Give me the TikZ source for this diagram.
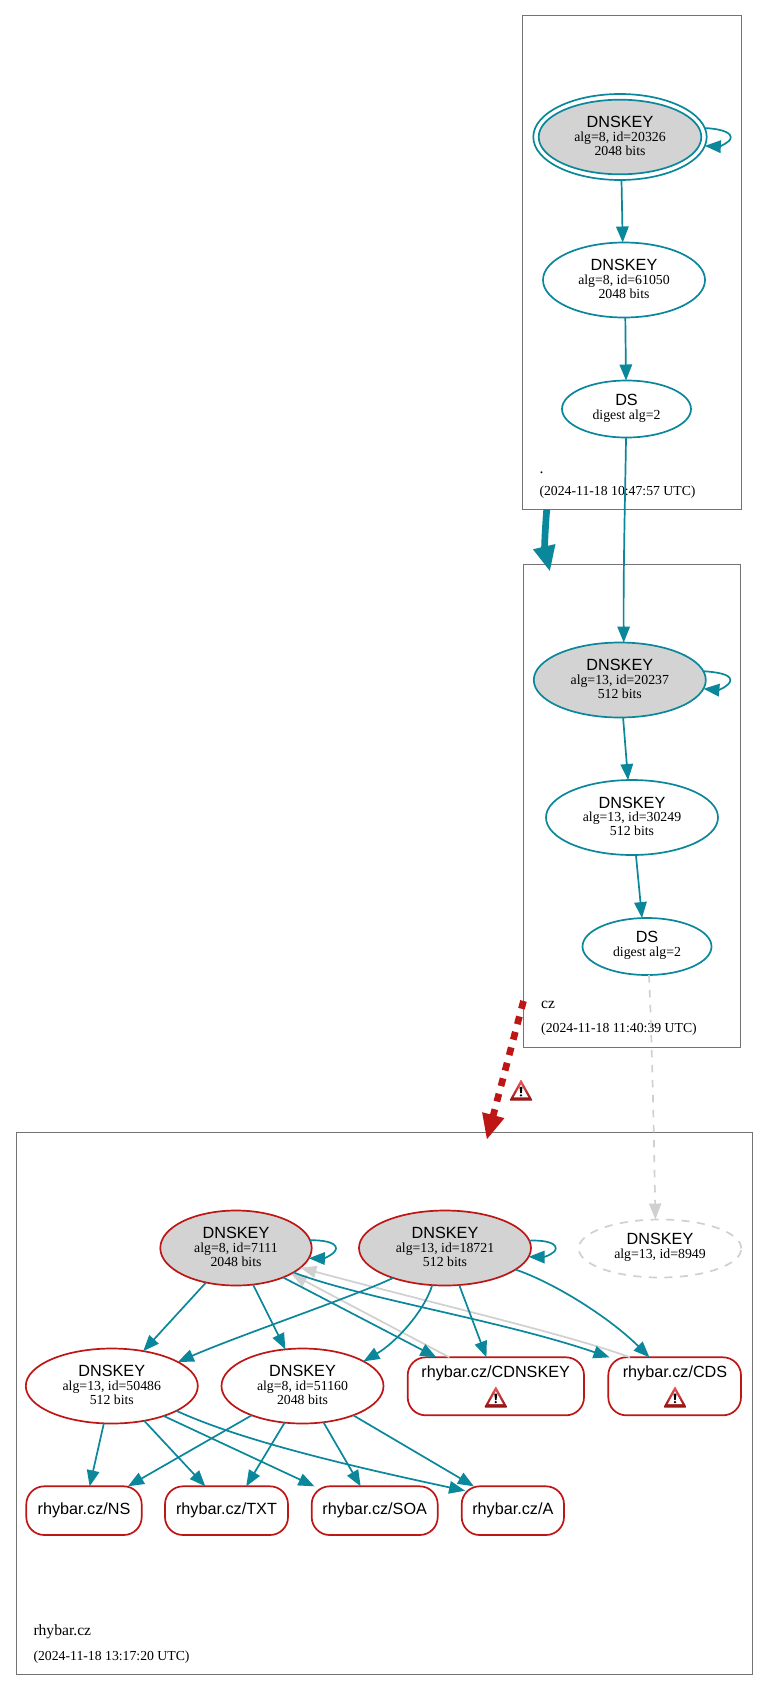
\documentclass[tikz,border=0pt]{standalone}
\usepackage{fontspec}
\setmainfont{Liberation Serif}
\newfontfamily\helv{Liberation Sans}
\usetikzlibrary{arrows.meta,shapes.geometric,calc}

\definecolor{secure}{HTML}{0A879A}
\definecolor{bogus}{HTML}{BE1515}
\definecolor{faint}{HTML}{D0D0D0}
\definecolor{keyfill}{HTML}{D3D3D3}

% Text inside the key ellipses: lines sit at fixed offsets from the node centre.
\newcommand{\sanstxt}{\helv\fontsize{16.2}{18}\selectfont}
\newcommand{\smalltxt}{\fontsize{13.8}{15}\selectfont}
\newcommand{\rowat}[2]{\makebox[0pt]{\raisebox{#1pt}{#2}}}
\newcommand{\keytext}[3]{\smash{\rowat{9.5}{\sanstxt #1}\rowat{-4}{\smalltxt #2}\rowat{-18}{\smalltxt #3}}}
\newcommand{\twotext}[2]{\smash{\rowat{3.8}{\sanstxt #1}\rowat{-10.4}{\smalltxt #2}}}

\tikzset{
  zonebox/.style={draw=black!55,line width=0.9pt,inner sep=0,outer sep=0,rectangle},
  keynode/.style={ellipse,draw=#1,line width=1.7pt,inner sep=0,outer sep=0},
  rrnode/.style={rectangle,rounded corners=18pt,draw=bogus,line width=1.7pt,inner sep=0,outer sep=0,
    minimum height=#1},
  rrtext/.style={inner sep=0,font=\sanstxt},
  zonelabel/.style={anchor=base west,inner sep=0,font=\fontsize{15.6}{17}\selectfont},
  zonedate/.style={anchor=base west,inner sep=0,font=\fontsize{13.75}{15}\selectfont},
  sig/.style={draw=secure,line width=1.7pt,-{Triangle[length=16pt,width=12.5pt]},color=secure},
  ghost/.style={draw=faint,line width=1.7pt,-{Triangle[length=16pt,width=12pt]},color=faint},
  deleg/.style={line width=6.7pt,-{Triangle[length=25.7pt,width=21pt]}},
  pics/warnsign/.style={code={
    \path[top color=red!60!white!85!bogus,bottom color=bogus!75!black,line join=round,rounded corners=1pt]
      (-11.7,10.7)--(0,-10.7)--(11.7,10.7)--cycle;
    \fill[white] (-7.3,7.4)--(0,-5.6)--(7.3,7.4)--cycle;
    \fill[black] (-1.5,-3.2)--(1.5,-3.2)--(0.7,3.2)--(-0.7,3.2)--cycle;
    \fill[black] (0,5.3) circle[radius=1.3];
  }},
}

\begin{document}
\begin{tikzpicture}[x=1pt,y=-1pt]
\useasboundingbox[fill=white] (0,0) rectangle (768,1690);

% Zones
\node[zonebox,minimum width=218.5pt,minimum height=493.6pt] (rootzone) at (631.75,262.5) {};
\node[zonebox,minimum width=216.5pt,minimum height=482.7pt] (czzone) at (631.75,805.65) {};
\node[zonebox,minimum width=736pt,minimum height=541.7pt] (rhyzone) at (384,1403.15) {};

\node[zonelabel] (rootname) at (539.3,473) {.};
\node[zonedate] (rootdate) at (539.3,495) {(2024-11-18 10:47:57 UTC)};
\node[zonelabel] (czname) at (541,1008) {cz};
\node[zonedate] (czdate) at (541,1032.5) {(2024-11-18 11:40:39 UTC)};
\node[zonelabel] (rhyname) at (33.3,1635) {rhybar.cz};
\node[zonedate] (rhydate) at (33.3,1660) {(2024-11-18 13:17:20 UTC)};

% Root zone keys
\node[keynode=secure,minimum width=173.4pt,minimum height=86pt] (rootkskouter) at (620,137) {};
\node[keynode=secure,fill=keyfill,minimum width=162.6pt,minimum height=74.6pt] (rootksk) at (620,137)
  {\keytext{DNSKEY}{alg=8, id=20326}{2048 bits}};
\node[keynode=secure,minimum width=162pt,minimum height=75pt] (rootzsk) at (624,280)
  {\keytext{DNSKEY}{alg=8, id=61050}{2048 bits}};
\node[keynode=secure,minimum width=129pt,minimum height=57pt] (rootds) at (626.5,409)
  {\twotext{DS}{digest alg=2}};

% cz zone keys
\node[keynode=secure,fill=keyfill,minimum width=172pt,minimum height=75pt] (czksk) at (619.8,680)
  {\keytext{DNSKEY}{alg=13, id=20237}{512 bits}};
\node[keynode=secure,minimum width=172pt,minimum height=75pt] (czzsk) at (632,817.5)
  {\keytext{DNSKEY}{alg=13, id=30249}{512 bits}};
\node[keynode=secure,minimum width=129pt,minimum height=57pt] (czds) at (647,946.5)
  {\twotext{DS}{digest alg=2}};

% rhybar.cz keys
\node[keynode=bogus,fill=keyfill,minimum width=151.4pt,minimum height=75pt] (ksk7111) at (236,1248)
  {\keytext{DNSKEY}{alg=8, id=7111}{2048 bits}};
\node[keynode=bogus,fill=keyfill,minimum width=172pt,minimum height=75pt] (ksk18721) at (445,1248)
  {\keytext{DNSKEY}{alg=13, id=18721}{512 bits}};
\node[keynode=faint,dash pattern=on 8pt off 7.5pt,minimum width=162.6pt,minimum height=58pt] (key8949) at (660,1248.5)
  {\twotext{DNSKEY}{alg=13, id=8949}};
\node[keynode=bogus,minimum width=172pt,minimum height=75pt] (zsk50486) at (111.8,1386)
  {\keytext{DNSKEY}{alg=13, id=50486}{512 bits}};
\node[keynode=bogus,minimum width=162pt,minimum height=75pt] (zsk51160) at (302.5,1386)
  {\keytext{DNSKEY}{alg=8, id=51160}{2048 bits}};

% rhybar.cz records
\node[rrnode=58pt,minimum width=176.3pt] (cdnskey) at (495.85,1386.3) {};
\node[rrtext] (cdnskeytext) at (495.7,1373) {rhybar.cz/CDNSKEY};
\node[rrnode=58pt,minimum width=132.7pt] (cds) at (674.65,1386.3) {};
\node[rrtext] (cdstext) at (675,1373) {rhybar.cz/CDS};
\node[rrnode=48.7pt,minimum width=115.4pt,rrtext] (rrns) at (84,1510.65) {rhybar.cz/NS};
\node[rrnode=48.7pt,minimum width=123pt,rrtext] (rrtxt) at (226.5,1510.65) {rhybar.cz/TXT};
\node[rrnode=48.7pt,minimum width=126pt,rrtext] (rrsoa) at (374.7,1510.65) {rhybar.cz/SOA};
\node[rrnode=48.7pt,minimum width=102.3pt,rrtext] (rra) at (512.85,1510.65) {rhybar.cz/A};

% Warning signs
\pic at (495.8,1396.8) {warnsign};
\pic at (675,1396.8) {warnsign};
\pic at (521,1090) {warnsign};

% Faint connectors run beneath the others
\draw[ghost,dash pattern=on 7.5pt off 7.5pt] (czds.-86) .. controls (652,1040) and (654,1140) .. (key8949.99.3);
\draw[ghost] (cdnskey.148.1) -- (ksk7111.-25.7);
\draw[ghost] (cds.147) .. controls (570,1335) and (420,1300) .. (ksk7111.-17.2);

% Root zone signatures
\draw[sig] (rootkskouter.6.6) .. controls (716,128.5) and (730.7,131) .. (730.7,137.3)
  .. controls (730.7,143) and (718,146.5) .. (rootkskouter.-6);
\draw[sig] (rootkskouter.-88.7) -- (rootzsk.92);
\draw[sig] (rootzsk.-88.5) -- (rootds.91.4);
\draw[sig] (rootds.-91) .. controls (625.5,480) and (623.3,560) .. (czksk.84.6);

% cz zone signatures
\draw[sig] (czksk.6.2) .. controls (716,672) and (730.3,674) .. (730.3,680)
  .. controls (730.3,686) and (718,690) .. (czksk.-6.4);
\draw[sig] (czksk.-85.7) -- (czzsk.96.1);
\draw[sig] (czzsk.-84.7) -- (czds.100);

% rhybar.cz key signatures
\draw[sig] (ksk7111.6.8) .. controls (322,1240) and (336,1242) .. (336,1248.3)
  .. controls (336,1254) and (323,1258.5) .. (ksk7111.-8.2);
\draw[sig] (ksk18721.5.9) .. controls (542,1240) and (555.7,1242) .. (555.7,1248.3)
  .. controls (555.7,1254) and (543,1257) .. (ksk18721.-6);
\draw[sig] (ksk7111.-131.9) -- (zsk50486.48.9);
\draw[sig] (ksk7111.-65.4) -- (zsk51160.115.6);
\draw[sig] (ksk7111.-32.4) -- (cdnskey.154.15);
\draw[sig] (ksk7111.-23.9) .. controls (360,1298) and (500,1320) .. (cds.156);
\draw[sig] (ksk18721.-150.8) .. controls (355,1296) and (240,1335) .. (zsk50486.20.8);
\draw[sig] (ksk18721.-109.4) .. controls (424,1312) and (395,1343) .. (zsk51160.22.9);
\draw[sig] (ksk18721.-69.2) -- (cdnskey.108.8);
\draw[sig] (ksk18721.-17.2) .. controls (555,1283) and (610,1318) .. (cds.131.3);

% Record signatures
\draw[sig] (zsk50486.-102.7) -- (rrns.77.2);
\draw[sig] (zsk50486.-47.9) -- (rrtxt.131.5);
\draw[sig] (zsk50486.-30.2) -- (rrsoa.158);
\draw[sig,shorten >=-3.5pt] (zsk50486.-21.2) .. controls (240,1440) and (345,1465) .. (rra.158);
\draw[sig] (zsk51160.-150) -- (rrns.29.7);
\draw[sig] (zsk51160.-116.1) -- (rrtxt.51.6);
\draw[sig] (zsk51160.-60) -- (rrsoa.120);
\draw[sig] (zsk51160.-30) -- (rra.148.3);

% Delegations between zones
\coordinate (czentry) at ($(czzone.north west)+(26.5,7.4)$);
\coordinate (rhyentry) at ($(rhyzone.north west)+(470.7,7.7)$);
\draw[deleg,draw=secure,color=secure] (rootzone.-109.7) .. controls (545,530) and (544.5,548) .. (czentry);
\draw[deleg,draw=bogus,color=bogus,dash pattern=on 8pt off 8pt] (czzone.-119.4) -- (rhyentry);
\end{tikzpicture}
\end{document}
